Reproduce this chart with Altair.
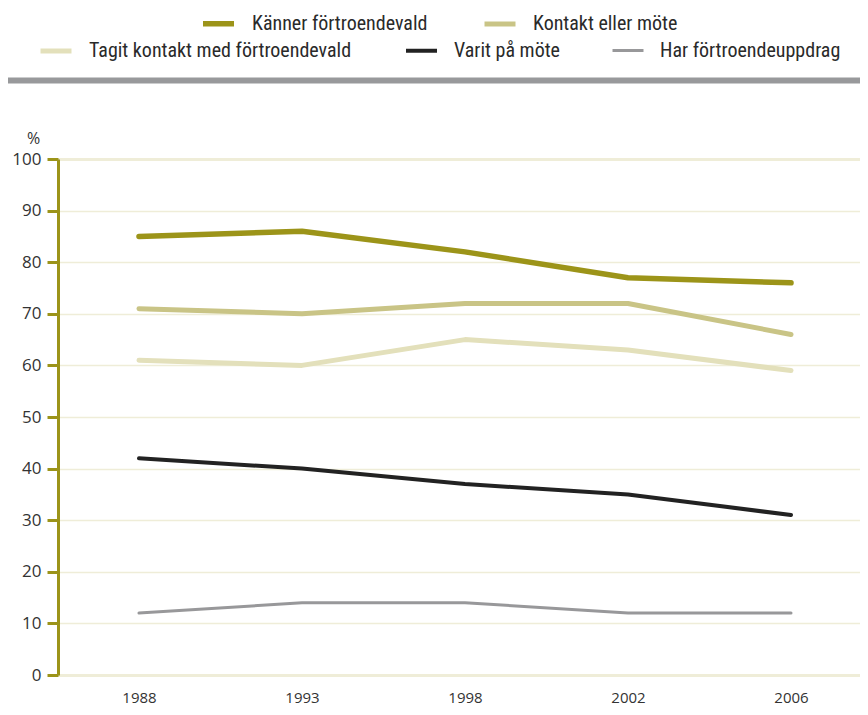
import altair as alt
import pandas as pd

years = ["1988", "1993", "1998", "2002", "2006"]
series_names = [
    "Känner förtroendevald",
    "Kontakt eller möte",
    "Tagit kontakt med förtroendevald",
    "Varit på möte",
    "Har förtroendeuppdrag",
]
kanner = [85, 86, 82, 77, 76]
kontakt = [71, 70, 72, 72, 66]
tagit = [61, 60, 65, 63, 59]
varit = [42, 40, 37, 35, 31]
har = [12, 14, 14, 12, 12]
y_ticks = [0, 10, 20, 30, 40, 50, 60, 70, 80, 90, 100]

colors = ["#9c9419", "#c9c486", "#e3e0bb", "#222222", "#98989a"]
widths = [5.5, 5, 5, 3, 3]

rows = []
for name, vals in zip(series_names, [kanner, kontakt, tagit, varit, har]):
    for yr, v in zip(years, vals):
        rows.append({"year": yr, "value": v, "series": name})
df = pd.DataFrame(rows)

W, H = 802, 516
OLIVE = "#9c9419"
LEG_FONT = "Roboto Condensed, DejaVu Sans Condensed, Liberation Sans Narrow, Roboto"

x_enc = alt.X(
    "year:O",
    scale=alt.Scale(type="point", padding=0.46, align=0.54),
    axis=alt.Axis(
        title=None, labelAngle=0, domain=False, ticks=False, grid=False,
        labelPadding=15, labelFontSize=15, labelColor="#333333",
        labelFont="Open Sans",
    ),
)
y_enc = alt.Y(
    "value:Q",
    scale=alt.Scale(domain=[0, 100], nice=False),
    axis=alt.Axis(
        values=y_ticks, title="%", titleAngle=0, titleX=-25, titleY=-21,
        titleAlign="center", titleBaseline="middle", titleFontWeight="normal",
        titleFontSize=16, titleColor="#333333", titleFont="Open Sans",
        domainColor=OLIVE, domainWidth=3, tickColor=OLIVE, tickWidth=3,
        tickSize=11, labelPadding=6, labelFontSize=17, labelColor="#333333",
        labelFont="Open Sans", grid=True, gridColor="#efedd8",
        gridWidth={"condition": {"test": "datum.value === 0 || datum.value === 100", "value": 3}, "value": 1.5},
    ),
)

legend_common = dict(
    title=None, orient="none", direction="horizontal", symbolType="stroke",
    symbolSize=961, symbolStrokeWidth=6, labelFont=LEG_FONT, labelFontSize=20,
    labelColor="#2a2a2a", labelOffset=15, columnPadding=46, labelLimit=500,
)

top = series_names[:2]
bottom = series_names[2:]

lines_a = alt.Chart(df).transform_filter(
    alt.FieldOneOfPredicate(field="series", oneOf=top)
).mark_line(strokeCap="round", strokeJoin="round").encode(
    x=x_enc, y=y_enc,
    color=alt.Color(
        "series:N",
        scale=alt.Scale(domain=top, range=colors[:2]),
        legend=alt.Legend(legendX=142, legendY=-154, **legend_common),
    ),
    strokeWidth=alt.StrokeWidth(
        "series:N", scale=alt.Scale(domain=top, range=widths[:2]), legend=None
    ),
)

lines_b = alt.Chart(df).transform_filter(
    alt.FieldOneOfPredicate(field="series", oneOf=bottom)
).mark_line(strokeCap="round", strokeJoin="round").encode(
    x=x_enc, y=y_enc,
    stroke=alt.Stroke(
        "series:N",
        scale=alt.Scale(domain=bottom, range=colors[2:]),
        legend=alt.Legend(legendX=-20, legendY=-126, **legend_common),
    ),
    strokeWidth=alt.StrokeWidth(
        "series:N", scale=alt.Scale(domain=bottom, range=widths[2:]), legend=None
    ),
)

bar = alt.Chart(pd.DataFrame({"a": [0]})).mark_rule(
    color="#98999b", strokeWidth=6
).encode(x=alt.value(-50), x2=alt.value(W), y=alt.value(-78.5))

chart = alt.layer(bar, lines_b, lines_a).resolve_scale(
    color="independent", stroke="independent", strokeWidth="independent"
).properties(
    width=W, height=H,
    autosize=alt.AutoSizeParams(type="none"),
    padding={"left": 50, "top": 151, "right": 0, "bottom": 32},
).configure_view(stroke=None).configure(font="Open Sans")

chart.save("out.html", embed_options={"renderer": "svg", "actions": False})
